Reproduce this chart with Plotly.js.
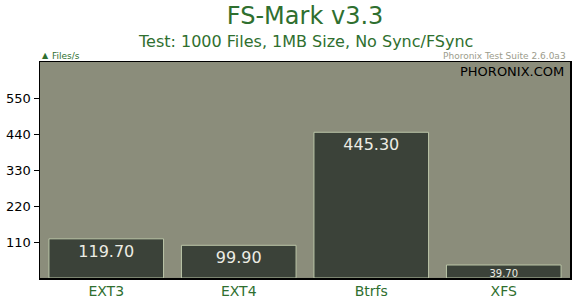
<!DOCTYPE html>
<html>
<head>
<meta charset="utf-8">
<script src="https://cdn.plot.ly/plotly-3.0.1.min.js"></script>
<style>html,body{margin:0;padding:0;background:#fff;}#chart{width:580px;height:300px;}</style>
</head>
<body>
<div id="chart"></div>
<script>
var categories = ["EXT3", "EXT4", "Btrfs", "XFS"];
var values = [119.70, 99.90, 445.30, 39.70];
var valueLabels = ["119.70", "99.90", "445.30", "39.70"];
var yTickVals = [110, 220, 330, 440, 550];
var boundaryTicks = [0.5, 1.5, 2.5, 3.5];

var green = "#2f6f2f";
var trace = {
  type: "bar",
  x: categories,
  y: values,
  text: valueLabels,
  textposition: "inside",
  insidetextanchor: "end",
  textangle: 0,
  constraintext: "none",
  textfont: {family: "DejaVu Sans", size: [16, 16, 16, 10], color: "#ecece4"},
  marker: {color: "#3b4239", line: {color: "#bcc6a8", width: 1}},
  width: 0.865,
  hoverinfo: "none"
};

var layout = {
  width: 580, height: 300,
  margin: {l: 40, r: 10, t: 62, b: 22},
  paper_bgcolor: "#ffffff",
  plot_bgcolor: "#8b8d7b",
  showlegend: false,
  font: {family: "DejaVu Sans"},
  title: {text: "FS-Mark v3.3", font: {family: "DejaVu Sans", size: 24, color: green},
          x: 0.526, xanchor: "center", y: 0.948, yanchor: "middle"},
  xaxis: {type: "category", range: [-0.5, 3.5], showgrid: false, zeroline: false,
          showline: true, linecolor: "#000", linewidth: 1.5, mirror: true,
          ticks: "", tickfont: {family: "DejaVu Sans", size: 14, color: green}},
  xaxis2: {overlaying: "x", anchor: "y", side: "bottom", range: [-0.5, 3.5], type: "linear",
           tickvals: boundaryTicks, ticks: "outside", ticklen: 5, tickcolor: "#000",
           showticklabels: false, showgrid: false, zeroline: false, showline: false},
  xaxis3: {overlaying: "x", anchor: "y", side: "bottom", range: [-0.5, 3.5], type: "linear",
           tickvals: boundaryTicks, ticks: "inside", ticklen: 5, tickcolor: "#000",
           showticklabels: false, showgrid: false, zeroline: false, showline: false},
  yaxis: {range: [0, 660], tickvals: yTickVals, ticks: "outside", ticklen: 5, tickcolor: "#000",
          showgrid: false, zeroline: false, showline: true, linecolor: "#000", linewidth: 1.5, mirror: true,
          tickfont: {family: "DejaVu Sans", size: 13, color: "#000"}},
  yaxis2: {overlaying: "y", anchor: "x", side: "left", range: [0, 660], tickvals: yTickVals,
           ticks: "inside", ticklen: 5, tickcolor: "#000", showticklabels: false,
           showgrid: false, zeroline: false, showline: false},
  annotations: [
    {text: "Test: 1000 Files, 1MB Size, No Sync/FSync", xref: "paper", yref: "paper",
     x: 0.5, y: 1.093, xanchor: "center", yanchor: "middle", showarrow: false,
     font: {family: "DejaVu Sans", size: 16, color: green}},
    {text: "▲", xref: "paper", yref: "paper", x: 0.0, y: 1.03, xanchor: "left", yanchor: "middle",
     showarrow: false, font: {family: "DejaVu Sans", size: 8, color: green}},
    {text: "Files/s", xref: "paper", yref: "paper", x: 0.019, y: 1.026, xanchor: "left", yanchor: "middle",
     showarrow: false, font: {family: "DejaVu Sans", size: 9, color: green}},
    {text: "Phoronix Test Suite 2.6.0a3", xref: "paper", yref: "paper", x: 0.996, y: 1.028,
     xanchor: "right", yanchor: "middle", showarrow: false,
     font: {family: "DejaVu Sans", size: 9, color: "#9c9c8c"}},
    {text: "PHORONIX.COM", xref: "paper", yref: "paper", x: 0.992, y: 0.958,
     xanchor: "right", yanchor: "middle", showarrow: false,
     font: {family: "DejaVu Sans", size: 13, color: "#000"}}
  ]
};

Plotly.newPlot("chart", [trace], layout, {displayModeBar: false, staticPlot: true});
</script>
</body>
</html>
